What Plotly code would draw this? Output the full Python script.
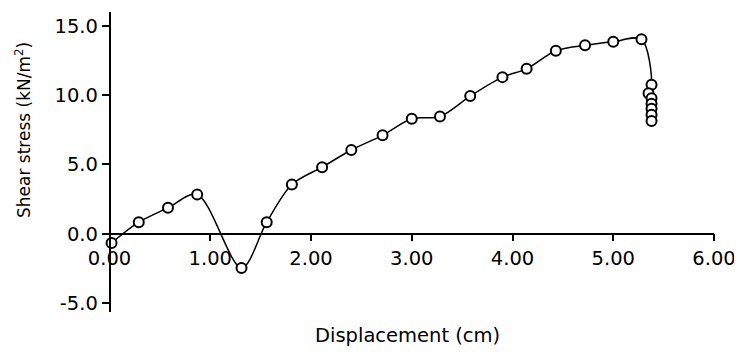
import plotly.graph_objects as go

displacement = [0.02, 0.29, 0.58, 0.87, 1.31, 1.56, 1.81, 2.11, 2.40, 2.71, 3.00, 3.28,
                3.58, 3.90, 4.14, 4.43, 4.72, 5.00, 5.28, 5.38, 5.35, 5.38, 5.38, 5.38,
                5.38, 5.38]
shear_stress = [-0.67, 0.83, 1.87, 2.83, -2.47, 0.83, 3.55, 4.80, 6.04, 7.10, 8.30, 8.46,
                9.93, 11.30, 11.90, 13.20, 13.60, 13.86, 14.03, 10.75, 10.14, 9.78, 9.38,
                9.02, 8.59, 8.13]

x_tickvals = [0, 1, 2, 3, 4, 5, 6]
x_ticktext = ["0.00", "1.00", "2.00", "3.00", "4.00", "5.00", "6.00"]
y_tickvals = [-5, 0, 5, 10, 15]
y_ticktext = ["-5.0", "0.0", "5.0", "10.0", "15.0"]

x_title = "Displacement (cm)"
y_title = "Shear stress (kN/m<sup>2</sup>)"

FONT = "DejaVu Sans"
x_range = [-0.065, 6.0]
y_range = [-5.65, 16.0]

fig = go.Figure()
fig.add_trace(go.Scatter(
    x=displacement, y=shear_stress, mode="lines+markers",
    line=dict(color="black", width=1.5, shape="spline", smoothing=0.9),
    marker=dict(symbol="circle", size=10, color="white",
                line=dict(color="black", width=2)),
    showlegend=False,
))

# the page body adds an 8px offset, so the figure is 8px smaller than the window
fig.update_layout(
    width=734, height=345,
    margin=dict(l=95, r=28, t=4, b=41, autoexpand=False),
    paper_bgcolor="white", plot_bgcolor="white",
    font=dict(family=FONT, size=19.5, color="black"),
    xaxis=dict(range=x_range, anchor="free", automargin=False,
               position=(0 - y_range[0]) / (y_range[1] - y_range[0]),
               tickvals=x_tickvals, ticktext=x_ticktext,
               showline=True, linecolor="black", linewidth=1.5,
               ticks="outside", ticklen=7, tickwidth=1.5, tickcolor="black",
               showgrid=False, zeroline=False),
    yaxis=dict(range=y_range, anchor="free", automargin=False,
               position=(0 - x_range[0]) / (x_range[1] - x_range[0]),
               tickvals=y_tickvals, ticktext=y_ticktext,
               showline=True, linecolor="black", linewidth=1.5,
               ticks="outside", ticklen=7, tickwidth=1.5, tickcolor="black",
               showgrid=False, zeroline=False),
    annotations=[
        dict(text=x_title, xref="paper", yref="paper",
             x=(399 - 95) / 611, y=(304 - 327) / 300,
             xanchor="center", yanchor="middle", showarrow=False,
             font=dict(family=FONT, size=19.5)),
        dict(text=y_title, xref="paper", yref="paper",
             x=(15 - 95) / 611, y=(304 - 122) / 300, textangle=-90,
             xanchor="center", yanchor="middle", showarrow=False,
             font=dict(family=FONT, size=17)),
    ],
)

fig.write_html("out.html")
